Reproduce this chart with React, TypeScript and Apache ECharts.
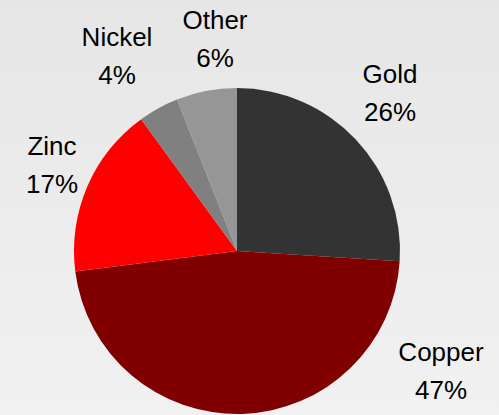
import React, { useEffect, useRef } from "react";
import * as echarts from "echarts";

const categories = ["Gold", "Copper", "Zinc", "Nickel", "Other"];
const values = [26, 47, 17, 4, 6];
const colors = ["#333333", "#800000", "#ff0000", "#808080", "#969696"];
// label anchor points (centre of each two-line label), in pixels
const labelAnchors: [number, number][] = [
  [390, 93],
  [441, 371],
  [52, 165],
  [117, 56],
  [215, 39],
];

export default function App() {
  const ref = useRef<HTMLDivElement>(null);
  useEffect(() => {
    if (!ref.current) return;
    const chart = echarts.init(ref.current, null, { renderer: "svg" });
    chart.setOption({
      animation: false,
      backgroundColor: {
        type: "linear",
        x: 0,
        y: 0,
        x2: 0,
        y2: 1,
        colorStops: [
          { offset: 0, color: "#e6e6e6" },
          { offset: 1, color: "#f1f1f1" },
        ],
      },
      series: [
        {
          type: "pie",
          center: [237, 251],
          radius: 163,
          startAngle: 90,
          clockwise: true,
          avoidLabelOverlap: false,
          emphasis: { disabled: true },
          itemStyle: { borderWidth: 0 },
          labelLine: { show: false },
          label: {
            show: true,
            position: "outside",
            formatter: (p: any) => `${p.name}\n${Math.round(p.percent)}%`,
            fontFamily: "'Liberation Sans', Arial, sans-serif",
            fontSize: 26,
            lineHeight: 38,
            color: "#000000",
            align: "center",
          },
          labelLayout: (p: any) => ({
            x: labelAnchors[p.dataIndex][0],
            y: labelAnchors[p.dataIndex][1],
            align: "center",
            verticalAlign: "middle",
          }),
          data: categories.map((c, i) => ({
            name: c,
            value: values[i],
            itemStyle: { color: colors[i] },
          })),
        },
      ],
    });
    return () => chart.dispose();
  }, []);
  return (
    <div
      ref={ref}
      style={{ position: "absolute", left: 0, top: 0, width: 499, height: 415 }}
    />
  );
}
